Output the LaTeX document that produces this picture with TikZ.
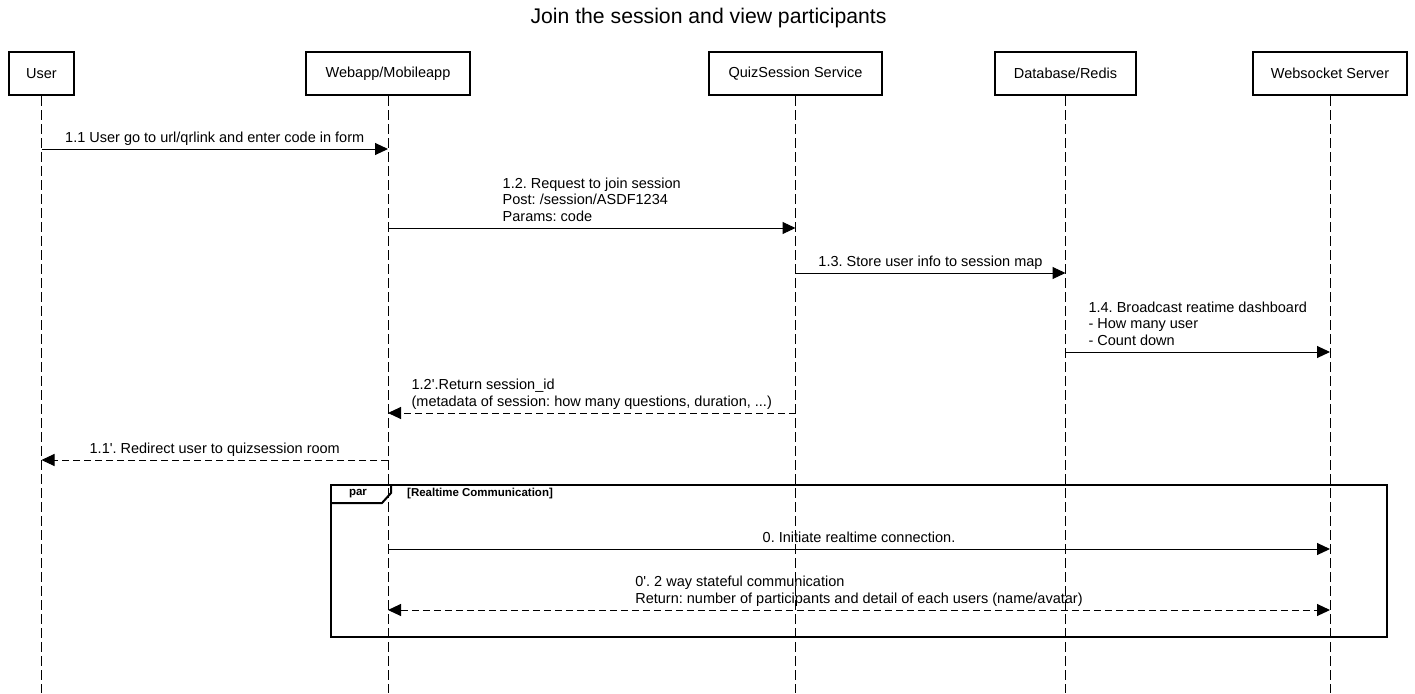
\documentclass[tikz,border=0pt]{standalone}
\usepackage{fontspec}
\setmainfont{Liberation Sans}
\usetikzlibrary{arrows.meta}
\frenchspacing
\begin{document}
\begin{tikzpicture}[x=1pt,y=-1pt,
  actor/.style={draw, line width=2pt, minimum height=43pt, inner sep=0pt, font=\fontsize{14.5}{17}\selectfont},
  life/.style={line width=1pt, dash pattern=on 10pt off 4pt},
  msg/.style={line width=1pt, -{Triangle[length=13pt,width=12pt]}},
  ret/.style={msg, dash pattern=on 7pt off 4pt},
  lbl/.style={font=\fontsize{14.5}{16.5}\selectfont, align=left, inner sep=0pt, anchor=south, yshift=1.5pt},
  frametxt/.style={font=\bfseries\fontsize{11.5}{13}\selectfont, inner sep=0pt}]
\useasboundingbox (0,0) rectangle (1415,693);
% title
\node[font=\fontsize{21.2}{25}\selectfont] (title) at (708.5,18) {Join the session and view participants};
% actors
\node[actor, minimum width=65pt]  (user) at (41.5,73.5) {User};
\node[actor, minimum width=164pt] (web)  at (388,73.5) {Webapp/Mobileapp};
\node[actor, minimum width=173pt] (quiz) at (795.5,73.5) {QuizSession Service};
\node[actor, minimum width=141pt] (db)   at (1065.5,73.5) {Database/Redis};
\node[actor, minimum width=154pt] (ws)   at (1330,73.5) {Websocket Server};
% lifelines
\coordinate (userEnd) at (user.south |- 0,693);
\coordinate (webEnd)  at (web.south |- 0,693);
\coordinate (quizEnd) at (quiz.south |- 0,693);
\coordinate (dbEnd)   at (db.south |- 0,693);
\coordinate (wsEnd)   at (ws.south |- 0,693);
\draw[life] (user.south) -- (userEnd);
\draw[life] (web.south) -- (webEnd);
\draw[life] (quiz.south) -- (quizEnd);
\draw[life] (db.south) -- (dbEnd);
\draw[life] (ws.south) -- (wsEnd);
% message anchor points
\coordinate (m1a) at (user.south |- 0,149);
\coordinate (m1b) at (web.south |- 0,149);
\coordinate (m2a) at (web.south |- 0,228);
\coordinate (m2b) at (quiz.south |- 0,228);
\coordinate (m3a) at (quiz.south |- 0,273);
\coordinate (m3b) at (db.south |- 0,273);
\coordinate (m4a) at (db.south |- 0,352);
\coordinate (m4b) at (ws.south |- 0,352);
\coordinate (m5a) at (quiz.south |- 0,413);
\coordinate (m5b) at (web.south |- 0,413);
\coordinate (m6a) at (web.south |- 0,460);
\coordinate (m6b) at (user.south |- 0,460);
\coordinate (m7a) at (web.south |- 0,549);
\coordinate (m7b) at (ws.south |- 0,549);
\coordinate (m8a) at (web.south |- 0,610);
\coordinate (m8b) at (ws.south |- 0,610);
% messages
\draw[msg] (m1a) -- node[lbl] {1.1 User go to url/qrlink and enter code in form\strut} (m1b);
\draw[msg] (m2a) -- node[lbl] {1.2. Request to join session\\Post: /session/ASDF1234\\Params: code\strut} (m2b);
\draw[msg] (m3a) -- node[lbl] {1.3. Store user info to session map\strut} (m3b);
\draw[msg] (m4a) -- node[lbl] {1.4. Broadcast reatime dashboard\\- How many user\\- Count down\strut} (m4b);
\draw[ret] (m5a) -- node[lbl] {1.2\textquotesingle.Return session\_id\\(metadata of session: how many questions, duration, ...)\strut} (m5b);
\draw[ret] (m6a) -- node[lbl] {1.1\textquotesingle. Redirect user to quizsession room\strut} (m6b);
% par frame
\node[draw, line width=2pt, minimum width=1056pt, minimum height=152pt, inner sep=0pt, anchor=north west] (par) at (330,484) {};
\draw[line width=2pt] (par.north west) ++(0,19) -- ++(52,0) -- ++(9,-10) -- ++(0,-9);
\node[frametxt] (parlbl) at (358,493.5) {par};
\node[frametxt, anchor=west] (parcond) at (407,493.5) {[Realtime Communication]};
\draw[msg] (m7a) -- node[lbl] {0. Initiate realtime connection.\strut} (m7b);
\draw[ret, {Triangle[length=13pt,width=12pt]}-{Triangle[length=13pt,width=12pt]}] (m8a) -- node[lbl] {0\textquotesingle. 2 way stateful communication\\Return: number of participants and detail of each users (name/avatar)\strut} (m8b);
\end{tikzpicture}
\end{document}
